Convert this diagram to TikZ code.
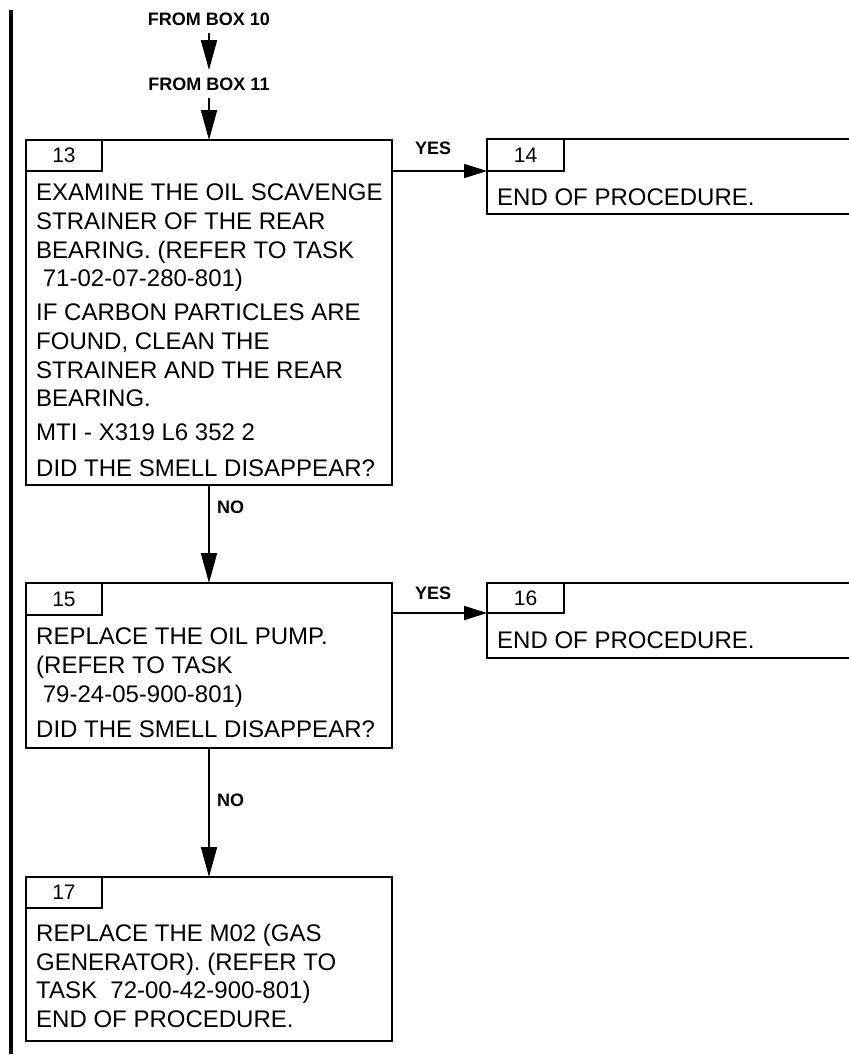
\documentclass[tikz,border=0pt]{standalone}
\usepackage{fontspec}
\setmainfont{Liberation Sans}
\usetikzlibrary{arrows.meta}

\begin{document}
\begin{tikzpicture}[x=1pt, y=-1pt,
  stepbox/.style={draw, line width=2pt, anchor=north west, inner sep=0pt, outer sep=0pt},
  numtab/.style={draw, line width=2pt, anchor=north west, minimum width=76pt, minimum height=31pt, inner sep=0pt, outer sep=0pt, font=\fontsize{21}{21}\selectfont},
  txt/.style={anchor=north west, align=left, inner sep=0pt, font=\fontsize{24}{28.6}\selectfont},
  lbl/.style={font=\bfseries\fontsize{18}{18}\selectfont, inner sep=0pt},
  fromlbl/.style={lbl, inner ysep=7.4pt},
  flow/.style={line width=2pt, -{Triangle[length=30pt,width=16pt]}},
  side/.style={line width=2pt, -{Triangle[length=23pt,width=14pt]}}
]
\useasboundingbox (0,0) rectangle (849,1061);

\draw[line width=3.6pt] (11,10) -- (11,1054);

\node[fromlbl] (f10) at (209,19) {FROM BOX 10};
\node[fromlbl] (f11) at (209,84) {FROM BOX 11};

\node[stepbox, minimum width=366pt, minimum height=345pt] (b13) at (26,140) {};
\node[numtab] (t13) at (26,140) {13};
\node[txt] (x13) at (36,184) {EXAMINE THE OIL SCAVENGE\\STRAINER OF THE REAR\\BEARING. (REFER TO TASK\\\hspace*{6.7pt}71-02-07-280-801)\\[5.5pt]IF CARBON PARTICLES ARE\\FOUND, CLEAN THE\\STRAINER AND THE REAR\\BEARING.\\[5pt]MTI - X319 L6 352 2\\[7.5pt]DID THE SMELL DISAPPEAR?};

\node[stepbox, minimum width=372pt, minimum height=75pt] (b14) at (487,139) {};
\node[numtab, minimum width=77pt, minimum height=32pt] (t14) at (487,139) {14};
\node[txt] (x14) at (497,189) {END OF PROCEDURE.};

\node[stepbox, minimum width=366pt, minimum height=165pt] (b15) at (26,583) {};
\node[numtab, minimum height=32pt] (t15) at (26,583) {15};
\node[txt] (x15) at (36,628) {REPLACE THE OIL PUMP.\\(REFER TO TASK\\\hspace*{6.7pt}79-24-05-900-801)\\[7pt]DID THE SMELL DISAPPEAR?};

\node[stepbox, minimum width=372pt, minimum height=75pt] (b16) at (487,583) {};
\node[numtab, minimum width=77pt, minimum height=30pt] (t16) at (487,583) {16};
\node[txt] (x16) at (497,632) {END OF PROCEDURE.};

\node[stepbox, minimum width=366pt, minimum height=164pt] (b17) at (26,877) {};
\node[numtab] (t17) at (26,877) {17};
\node[txt] (x17) at (36,924) {REPLACE THE M02 (GAS\\GENERATOR). (REFER TO\\TASK\ \ 72-00-42-900-801)\\END OF PROCEDURE.};

\draw[flow] (f10.south) -- (f11.north);
\draw[flow] (f11.south) -- (b13.north);
\draw[flow] (b13.south) -- (b15.north);
\draw[flow] (b15.south) -- (b17.north);
\draw[side] (t14.south west -| b13.east) -- (t14.south west);
\draw[side] (t16.south west -| b15.east) -- (t16.south west);

\node[lbl, anchor=west] (yes1) at (415,148) {YES};
\node[lbl, anchor=west] (yes2) at (415,593) {YES};
\node[lbl, anchor=west] (no1) at (217,507) {NO};
\node[lbl, anchor=west] (no2) at (217,800) {NO};

\end{tikzpicture}
\end{document}
